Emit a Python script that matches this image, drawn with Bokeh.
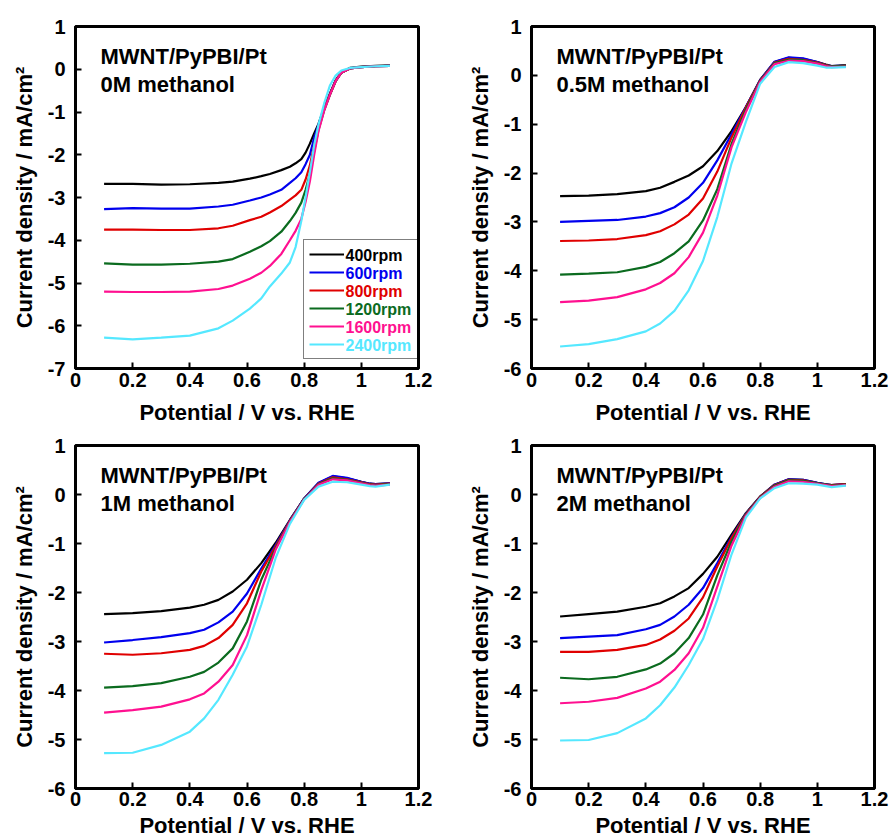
from bokeh.plotting import figure
from bokeh.layouts import column, row
from bokeh.models import FixedTicker, PrintfTickFormatter, Label, Legend, LegendItem
from bokeh.embed import file_html
from bokeh.resources import INLINE

# ---------------- data ----------------
series_labels = ["400rpm", "600rpm", "800rpm", "1200rpm", "1600rpm", "2400rpm"]
series_colors = ["#000000", "#0000ee", "#e00000", "#0b6b1f", "#ff1090", "#55e8ff"]

x_0M = [0.10, 0.20, 0.30, 0.40, 0.50, 0.55, 0.61, 0.65, 0.68, 0.72, 0.75, 0.77, 0.79,
        0.805, 0.82, 0.835, 0.85, 0.87, 0.89, 0.91, 0.93, 0.96, 1.00, 1.05, 1.10]
y_0M_400 = [-2.68, -2.68, -2.70, -2.69, -2.66, -2.63, -2.56, -2.50, -2.45, -2.36, -2.28, -2.20, -2.10,
            -1.95, -1.74, -1.50, -1.28, -0.90, -0.57, -0.26, -0.07, 0.03, 0.06, 0.08, 0.09]
y_0M_600 = [-3.27, -3.25, -3.26, -3.26, -3.21, -3.17, -3.07, -3.00, -2.93, -2.82, -2.66, -2.55, -2.41,
            -2.22, -2.00, -1.60, -1.30, -0.92, -0.58, -0.27, -0.08, 0.02, 0.05, 0.07, 0.08]
y_0M_800 = [-3.75, -3.75, -3.76, -3.76, -3.72, -3.66, -3.53, -3.45, -3.35, -3.20, -3.05, -2.95, -2.82,
            -2.58, -2.25, -1.78, -1.35, -0.94, -0.59, -0.28, -0.08, 0.02, 0.05, 0.07, 0.08]
y_0M_1200 = [-4.54, -4.57, -4.57, -4.55, -4.50, -4.44, -4.27, -4.14, -4.02, -3.80, -3.55, -3.36, -3.12,
             -2.82, -2.45, -1.92, -1.42, -0.96, -0.60, -0.28, -0.08, 0.02, 0.05, 0.07, 0.08]
y_0M_1600 = [-5.20, -5.21, -5.21, -5.20, -5.14, -5.06, -4.90, -4.76, -4.60, -4.32, -4.00, -3.78, -3.50,
             -3.10, -2.62, -2.00, -1.45, -0.97, -0.60, -0.28, -0.08, 0.02, 0.05, 0.07, 0.08]
y_0M_2400 = [-6.28, -6.32, -6.28, -6.23, -6.06, -5.88, -5.60, -5.36, -5.08, -4.78, -4.52, -4.16, -3.55,
             -2.99, -2.40, -1.78, -1.30, -0.80, -0.38, -0.15, -0.03, 0.03, 0.05, 0.07, 0.08]

x_m = [0.10, 0.20, 0.30, 0.40, 0.45, 0.50, 0.55, 0.60, 0.65, 0.70, 0.75, 0.80,
       0.85, 0.90, 0.95, 1.00, 1.03, 1.05, 1.10]

y_05M_400 = [-2.47, -2.46, -2.43, -2.37, -2.30, -2.18, -2.05, -1.86, -1.55, -1.14, -0.65, -0.09,
             0.27, 0.36, 0.34, 0.27, 0.22, 0.19, 0.21]
y_05M_600 = [-3.00, -2.98, -2.96, -2.89, -2.82, -2.70, -2.50, -2.20, -1.74, -1.20, -0.65, -0.10,
             0.28, 0.37, 0.35, 0.27, 0.21, 0.19, 0.20]
y_05M_800 = [-3.39, -3.38, -3.35, -3.27, -3.19, -3.05, -2.85, -2.52, -1.97, -1.27, -0.66, -0.11,
             0.26, 0.34, 0.32, 0.26, 0.21, 0.18, 0.20]
y_05M_1200 = [-4.08, -4.06, -4.03, -3.92, -3.82, -3.64, -3.40, -2.97, -2.33, -1.40, -0.70, -0.12,
              0.25, 0.32, 0.31, 0.25, 0.20, 0.18, 0.20]
y_05M_1600 = [-4.64, -4.61, -4.54, -4.38, -4.25, -4.05, -3.72, -3.22, -2.46, -1.47, -0.75, -0.13,
              0.23, 0.30, 0.29, 0.24, 0.19, 0.17, 0.18]
y_05M_2400 = [-5.55, -5.50, -5.40, -5.24, -5.08, -4.82, -4.40, -3.80, -2.90, -1.80, -0.95, -0.17,
              0.17, 0.27, 0.25, 0.20, 0.16, 0.16, 0.17]

y_1M_400 = [-2.44, -2.42, -2.38, -2.31, -2.25, -2.15, -1.98, -1.74, -1.40, -0.99, -0.52, -0.08,
            0.23, 0.37, 0.33, 0.26, 0.22, 0.21, 0.23]
y_1M_600 = [-3.02, -2.97, -2.91, -2.83, -2.76, -2.61, -2.39, -2.02, -1.51, -1.03, -0.53, -0.08,
            0.24, 0.38, 0.34, 0.26, 0.22, 0.21, 0.23]
y_1M_800 = [-3.25, -3.27, -3.24, -3.17, -3.09, -2.93, -2.66, -2.22, -1.57, -1.06, -0.54, -0.09,
            0.22, 0.35, 0.31, 0.25, 0.21, 0.20, 0.22]
y_1M_1200 = [-3.94, -3.91, -3.85, -3.72, -3.62, -3.43, -3.14, -2.59, -1.74, -1.10, -0.55, -0.09,
             0.21, 0.33, 0.30, 0.24, 0.20, 0.19, 0.21]
y_1M_1600 = [-4.45, -4.40, -4.33, -4.18, -4.06, -3.82, -3.48, -2.87, -1.95, -1.13, -0.56, -0.10,
             0.20, 0.31, 0.29, 0.23, 0.19, 0.18, 0.20]
y_1M_2400 = [-5.28, -5.27, -5.11, -4.84, -4.57, -4.19, -3.68, -3.10, -2.25, -1.30, -0.60, -0.11,
             0.16, 0.26, 0.25, 0.20, 0.17, 0.16, 0.20]

y_2M_400 = [-2.49, -2.44, -2.39, -2.29, -2.22, -2.08, -1.91, -1.62, -1.27, -0.82, -0.38, -0.04,
            0.20, 0.31, 0.30, 0.24, 0.21, 0.19, 0.21]
y_2M_600 = [-2.93, -2.90, -2.87, -2.75, -2.66, -2.49, -2.25, -1.91, -1.40, -0.87, -0.39, -0.05,
            0.20, 0.31, 0.30, 0.24, 0.21, 0.19, 0.21]
y_2M_800 = [-3.21, -3.21, -3.17, -3.07, -2.96, -2.78, -2.53, -2.10, -1.47, -0.89, -0.40, -0.05,
            0.19, 0.30, 0.29, 0.23, 0.20, 0.19, 0.21]
y_2M_1200 = [-3.74, -3.77, -3.72, -3.57, -3.45, -3.24, -2.93, -2.45, -1.65, -0.96, -0.41, -0.06,
             0.18, 0.29, 0.28, 0.23, 0.20, 0.18, 0.20]
y_2M_1600 = [-4.26, -4.23, -4.15, -3.96, -3.82, -3.58, -3.24, -2.72, -1.88, -1.04, -0.43, -0.07,
             0.16, 0.27, 0.26, 0.22, 0.19, 0.17, 0.19]
y_2M_2400 = [-5.02, -5.01, -4.87, -4.57, -4.30, -3.94, -3.48, -2.95, -2.15, -1.22, -0.47, -0.08,
             0.13, 0.23, 0.22, 0.20, 0.17, 0.15, 0.18]

x_ticks = [0, 0.2, 0.4, 0.6, 0.8, 1.0, 1.2]
y_ticks_0M = [-7, -6, -5, -4, -3, -2, -1, 0, 1]
y_ticks_m = [-6, -5, -4, -3, -2, -1, 0, 1]

sample_name = "MWNT/PyPBI/Pt"
conditions = ["0M methanol", "0.5M methanol", "1M methanol", "2M methanol"]
x_title = "Potential / V vs. RHE"
y_title = "Current density / mA/cm²"

FONT = "Liberation Sans"


def make_panel(xs, ys_list, y_ticks, condition, left_border, right_border,
               top_border, bottom_border, frame_h, xlab_gap, xtick_gap, with_legend=False):
    p = figure(frame_width=343, frame_height=frame_h,
               x_range=(0, 1.2), y_range=(y_ticks[0], y_ticks[-1]),
               output_backend="svg", toolbar_location=None,
               min_border_left=left_border, min_border_right=right_border,
               min_border_top=top_border, min_border_bottom=bottom_border,
               background_fill_color="white", border_fill_color="white")
    p.xgrid.visible = False
    p.ygrid.visible = False
    p.outline_line_color = "black"
    p.outline_line_width = 3

    renderers = []
    for ys, c in zip(ys_list, series_colors):
        r = p.line(xs, ys, line_color=c, line_width=2.2)
        renderers.append(r)

    for ax in (p.xaxis[0], p.yaxis[0]):
        ax.axis_line_width = 3
        ax.major_tick_in = 6
        ax.major_tick_out = 0
        ax.major_tick_line_width = 2
        ax.minor_tick_line_color = None
        ax.major_label_text_font = FONT
        ax.major_label_text_font_style = "bold"
        ax.major_label_text_font_size = "20px"
        ax.major_label_text_color = "black"
        ax.axis_label_text_font = FONT
        ax.axis_label_text_font_style = "bold"
        ax.axis_label_text_font_size = "22px"
        ax.axis_label_text_color = "black"

    p.xaxis.ticker = FixedTicker(ticks=x_ticks)
    p.xaxis.formatter = PrintfTickFormatter(format="%g")
    p.xaxis.major_label_standoff = xtick_gap
    p.xaxis.axis_label = x_title
    p.xaxis.axis_label_standoff = xlab_gap

    p.yaxis.ticker = FixedTicker(ticks=y_ticks)
    p.yaxis.formatter = PrintfTickFormatter(format="%d")
    p.yaxis.major_label_standoff = 10
    p.yaxis.axis_label = y_title
    p.yaxis.axis_label_standoff = 8

    for i, txt in enumerate([sample_name, condition]):
        p.add_layout(Label(x=25, y=frame_h - 30 - 28 * i, x_units="screen", y_units="screen",
                           text=txt, text_font=FONT, text_font_style="bold",
                           text_font_size="22px", text_color="black",
                           text_baseline="alphabetic"))

    if with_legend:
        pad = 5
        gw = 35
        stand = 2
        rowh = 18
        lx, ly = 228, 9
        items = [LegendItem(label=lab, renderers=[r]) for lab, r in zip(series_labels, renderers)]
        leg = Legend(items=items, location=(lx, ly), padding=pad, spacing=0, margin=0,
                     glyph_width=gw, glyph_height=rowh, label_height=rowh,
                     label_standoff=stand, label_text_font=FONT,
                     label_text_font_style="bold", label_text_font_size="16px",
                     label_text_alpha=0.0, border_line_color="black",
                     border_line_width=1.5, background_fill_alpha=0.0)
        p.add_layout(leg, "center")
        n = len(series_labels)
        for i, (lab, c) in enumerate(zip(series_labels, series_colors)):
            p.add_layout(Label(x=lx + pad + gw + stand,
                               y=ly + pad + (n - 1 - i) * rowh + rowh / 2,
                               x_units="screen", y_units="screen", text=lab,
                               text_font=FONT, text_font_style="bold",
                               text_font_size="16px", text_color=c,
                               text_baseline="middle", text_align="left"))
    return p


p1 = make_panel(x_0M, [y_0M_400, y_0M_600, y_0M_800, y_0M_1200, y_0M_1600, y_0M_2400],
                y_ticks_0M, conditions[0], 75, 45, 26, 53, 342, 10, 4, with_legend=True)
p2 = make_panel(x_m, [y_05M_400, y_05M_600, y_05M_800, y_05M_1200, y_05M_1600, y_05M_2400],
                y_ticks_m, conditions[1], 68, 19, 26, 53, 342, 10, 4)
p3 = make_panel(x_m, [y_1M_400, y_1M_600, y_1M_800, y_1M_1200, y_1M_1600, y_1M_2400],
                y_ticks_m, conditions[2], 75, 45, 18, 56, 343, 4, 3)
p4 = make_panel(x_m, [y_2M_400, y_2M_600, y_2M_800, y_2M_1200, y_2M_1600, y_2M_2400],
                y_ticks_m, conditions[3], 68, 19, 18, 56, 343, 4, 3)

layout = column(row(p1, p2, spacing=0), row(p3, p4, spacing=0), spacing=0)

open("out.html", "w").write(file_html(layout, INLINE))
